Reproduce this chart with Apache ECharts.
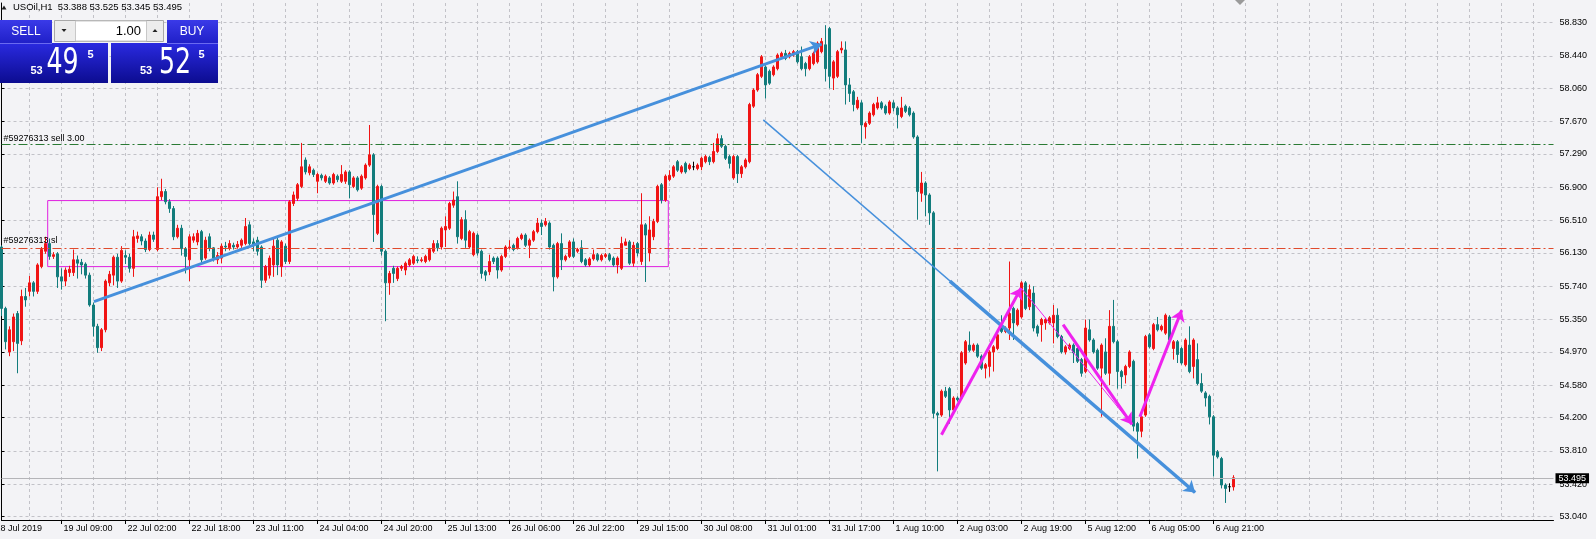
<!DOCTYPE html>
<html><head><meta charset="utf-8">
<script src="https://cdn.jsdelivr.net/npm/echarts@6/dist/echarts.min.js"></script>
<style>html,body{margin:0;padding:0;background:#f3f3f6;}#c{width:1596px;height:539px;}</style>
</head><body><div id="c"></div>
<script>
// ---- DATA (H1 bars, USOil) ----
const opens = [
56.20,55.48,54.97,55.09,55.42,55.10,55.62,55.68,55.78,55.68,
55.97,56.15,56.24,56.09,56.12,55.85,55.80,55.90,55.90,56.05,
56.02,56.00,55.87,55.52,55.27,55.02,55.23,55.78,55.87,56.08,
55.80,56.10,56.08,55.95,56.30,56.32,56.27,56.17,56.34,56.17,
56.79,56.85,56.73,56.65,56.32,56.42,56.18,56.05,56.28,56.26,
56.38,56.07,56.32,56.19,56.05,56.07,56.21,56.19,56.22,56.20,
56.22,56.24,56.46,56.26,56.28,56.20,55.81,55.87,55.99,56.28,
55.97,56.21,56.03,56.71,56.77,56.91,57.22,57.07,57.10,56.97,
57.04,56.97,57.01,56.95,57.03,56.97,56.97,57.08,56.91,57.01,
56.89,57.01,57.16,57.28,56.36,56.91,56.15,55.78,55.95,55.83,
55.95,55.93,55.99,56.01,56.05,56.04,56.03,56.05,56.15,56.24,
56.20,56.40,56.42,56.69,56.79,56.30,56.52,56.20,56.11,56.34,
56.15,55.91,55.91,56.07,56.07,55.93,56.09,56.19,56.22,56.19,
56.30,56.34,56.22,56.28,56.38,56.48,56.46,56.48,56.22,55.85,
56.24,56.05,56.09,56.26,56.15,56.19,56.05,55.99,56.06,56.11,
56.05,56.09,56.11,56.07,55.99,55.95,56.22,56.26,56.01,56.24,
56.03,56.46,56.13,56.32,56.50,56.93,56.75,56.99,57.03,57.20,
57.08,57.18,57.12,57.14,57.12,57.14,57.20,57.25,57.20,57.32,
57.47,57.38,57.26,57.01,57.26,57.06,57.14,57.20,57.85,58.04,
58.20,58.31,58.26,58.22,58.29,58.43,58.47,58.43,58.45,58.49,
58.43,58.35,58.29,58.35,58.37,58.49,58.57,58.76,58.18,58.20,
58.51,58.51,58.10,58.02,57.83,57.89,57.61,57.65,57.75,57.83,
57.89,57.85,57.77,57.89,57.83,57.73,57.85,57.83,57.77,57.49,
56.83,56.95,56.81,56.60,54.25,54.23,54.51,54.54,54.29,54.43,
54.43,54.84,55.05,54.99,55.05,54.92,54.78,54.80,54.97,55.01,
55.29,55.21,55.25,55.48,55.29,55.38,55.78,55.50,55.66,55.27,
55.29,55.31,55.31,55.31,55.40,55.15,54.97,55.01,55.05,55.01,
54.88,54.74,55.23,55.11,54.99,54.78,54.97,54.72,55.27,55.09,
54.74,54.70,54.80,54.86,54.13,54.04,54.23,55.17,55.01,55.29,
55.23,55.19,55.38,55.01,55.09,55.01,54.82,55.05,54.80,54.88,
54.60,54.49,54.45,54.21,53.80,53.72,53.41,53.39,53.388];
const closes = [
55.48,55.09,55.23,55.38,55.07,55.62,55.58,55.78,55.68,55.99,
56.17,56.24,56.09,56.11,55.85,55.80,55.93,55.94,56.05,56.01,
55.99,55.87,55.52,55.27,55.02,55.23,55.80,55.88,56.08,55.80,
56.16,56.08,55.95,56.32,56.33,56.27,56.17,56.34,56.29,56.79,
56.85,56.73,56.65,56.32,56.42,56.18,56.09,56.32,56.32,56.36,
56.05,56.28,56.19,56.07,56.10,56.21,56.20,56.24,56.20,56.23,
56.28,56.44,56.24,56.23,56.15,55.81,55.97,56.07,56.21,55.99,
56.26,56.03,56.73,56.81,56.93,57.14,57.08,57.14,57.05,57.05,
57.01,57.03,56.95,57.05,56.99,57.05,57.08,56.93,57.01,56.87,
57.03,57.16,57.28,56.58,56.91,56.15,55.78,55.89,55.89,55.95,
55.97,56.01,56.05,56.09,56.04,56.05,56.09,56.17,56.24,56.19,
56.42,56.44,56.71,56.75,56.32,56.52,56.28,56.38,56.36,56.13,
55.89,55.87,56.03,56.03,55.93,56.09,56.20,56.20,56.17,56.30,
56.34,56.22,56.28,56.38,56.48,56.44,56.50,56.20,55.85,56.24,
56.05,56.09,56.26,56.09,56.17,56.03,55.99,56.06,56.11,56.05,
56.10,56.11,56.05,55.99,56.07,56.24,56.26,56.01,56.22,56.13,
56.46,56.34,56.40,56.50,56.91,56.75,57.03,57.04,57.14,57.10,
57.14,57.08,57.16,57.14,57.16,57.24,57.26,57.20,57.32,57.47,
57.38,57.24,57.18,57.26,57.06,57.14,57.22,57.87,58.04,58.22,
58.43,58.10,58.12,58.31,58.45,58.47,58.41,58.47,58.49,58.37,
58.29,58.29,58.43,58.47,58.59,58.61,58.29,58.20,58.37,58.49,
58.53,58.10,58.00,57.87,57.92,57.63,57.65,57.77,57.87,57.89,
57.83,57.77,57.90,57.83,57.75,57.83,57.79,57.75,57.49,56.85,
56.95,56.81,56.60,54.25,54.23,54.51,54.45,54.29,54.43,54.41,
54.96,55.09,54.99,55.05,54.92,54.78,54.82,54.97,55.03,55.17,
55.21,55.25,55.42,55.31,55.46,55.78,55.48,55.70,55.25,55.19,
55.35,55.35,55.37,55.40,55.15,54.97,55.03,55.05,54.96,54.86,
54.72,55.25,55.11,54.97,54.78,55.05,54.72,55.27,55.09,54.74,
54.68,54.80,54.97,54.10,54.04,54.21,55.15,55.03,55.29,55.23,
55.27,55.40,55.11,55.09,54.94,54.84,55.11,54.74,55.11,54.60,
54.51,54.43,54.21,53.76,53.74,53.41,53.37,53.39,53.495];
const lows = [
55.39,55.00,54.92,54.98,54.72,55.05,55.50,55.62,55.62,55.65,
55.95,56.12,56.05,56.06,55.72,55.70,55.74,55.85,55.86,55.83,
55.88,55.83,55.50,55.15,54.96,54.98,55.20,55.74,55.75,55.72,
55.78,56.00,55.90,55.85,56.25,56.22,56.14,56.15,56.26,56.15,
56.75,56.70,56.60,56.28,56.30,56.10,55.89,55.80,56.25,56.22,
56.02,56.05,56.15,56.03,56.00,56.01,56.15,56.16,56.17,56.18,
56.19,56.22,56.22,56.15,56.10,55.72,55.78,55.83,55.85,55.87,
55.85,56.00,56.00,56.68,56.74,56.89,57.05,57.04,57.02,56.83,
56.98,56.95,56.93,56.93,56.96,56.95,56.94,56.77,56.89,56.85,
56.87,56.99,57.14,56.26,56.34,56.10,55.33,55.64,55.78,55.80,
55.92,55.87,55.97,55.99,56.01,56.02,56.01,56.03,56.13,56.15,
56.17,56.20,56.40,56.66,56.24,56.28,56.19,56.18,56.09,56.10,
55.83,55.80,55.87,56.00,55.83,55.91,56.07,56.17,56.15,56.17,
56.28,56.20,56.07,56.26,56.36,56.34,56.44,56.17,55.68,55.83,
55.93,56.03,56.07,56.07,56.13,56.01,55.97,55.97,56.04,56.03,
56.03,56.07,56.03,55.97,55.89,55.93,56.22,55.99,55.97,56.09,
55.99,55.79,56.03,56.28,56.48,56.71,56.73,56.97,57.01,57.08,
57.06,57.06,57.10,57.10,57.10,57.10,57.18,57.16,57.18,57.30,
57.36,57.22,57.12,56.99,56.95,57.01,57.12,57.18,57.83,58.02,
58.18,57.94,58.10,58.20,58.27,58.41,58.39,58.41,58.43,58.35,
58.27,58.20,58.27,58.33,58.35,58.47,58.14,58.06,58.04,58.18,
58.47,57.87,57.90,57.79,57.81,57.42,57.47,57.63,57.73,57.81,
57.81,57.75,57.75,57.79,57.59,57.71,57.77,57.73,57.47,56.52,
56.73,56.56,56.46,54.19,53.57,54.21,54.43,54.13,54.27,54.39,
54.41,54.82,54.97,54.97,54.90,54.76,54.66,54.68,54.74,54.99,
55.19,55.19,55.11,55.11,55.27,55.36,55.46,55.46,55.21,55.15,
55.09,55.23,55.29,55.07,55.13,54.95,54.94,54.99,54.84,54.84,
54.68,54.72,55.09,54.95,54.76,54.21,54.70,54.58,55.07,54.54,
54.54,54.60,54.78,54.04,53.72,53.97,54.21,55.01,54.99,55.21,
55.21,55.17,55.09,54.88,54.84,54.82,54.80,54.72,54.66,54.58,
54.49,54.33,54.12,53.51,53.72,53.37,53.20,53.33,53.345];
const highs = [
56.22,55.50,55.27,55.42,55.45,55.70,55.72,55.86,55.80,56.01,
56.20,56.32,56.30,56.14,56.14,55.95,55.96,55.98,56.17,56.10,
56.06,56.02,55.90,55.55,55.30,55.25,55.82,55.92,56.10,56.12,
56.21,56.16,56.12,56.40,56.38,56.35,56.30,56.38,56.38,56.90,
57.00,56.88,56.76,56.68,56.46,56.46,56.20,56.35,56.36,56.40,
56.40,56.32,56.36,56.20,56.14,56.24,56.26,56.28,56.25,56.27,
56.30,56.54,56.50,56.30,56.32,56.22,55.99,56.10,56.30,56.32,
56.28,56.24,56.75,56.85,56.95,57.42,57.25,57.17,57.12,57.07,
57.06,57.05,57.03,57.07,57.05,57.16,57.10,57.10,57.03,57.03,
57.05,57.18,57.63,57.30,56.93,56.93,56.17,55.92,55.98,55.97,
55.99,56.03,56.07,56.11,56.09,56.08,56.11,56.19,56.28,56.28,
56.44,56.56,56.73,56.85,56.97,56.55,56.63,56.40,56.38,56.36,
56.17,55.93,56.11,56.09,56.09,56.11,56.22,56.28,56.24,56.32,
56.36,56.36,56.30,56.40,56.54,56.52,56.54,56.50,56.24,56.26,
56.36,56.11,56.28,56.30,56.19,56.28,56.07,56.08,56.17,56.13,
56.12,56.13,56.13,56.09,56.09,56.32,56.30,56.28,56.26,56.26,
56.83,56.48,56.56,56.53,56.93,56.95,57.05,57.10,57.16,57.22,
57.16,57.20,57.18,57.20,57.18,57.26,57.28,57.27,57.42,57.53,
57.51,57.40,57.28,57.28,57.28,57.16,57.24,57.89,58.06,58.24,
58.45,58.33,58.28,58.33,58.47,58.49,58.51,58.49,58.51,58.51,
58.55,58.37,58.45,58.49,58.61,58.65,58.80,58.78,58.39,58.51,
58.61,58.61,58.18,58.04,57.96,57.92,57.67,57.79,57.89,57.96,
57.91,57.87,57.92,57.92,57.85,57.96,57.87,57.85,57.79,57.51,
57.08,56.97,56.83,56.62,54.27,54.53,54.56,54.56,54.45,54.45,
54.98,55.11,55.21,55.07,55.07,54.94,54.84,54.99,55.05,55.19,
55.40,55.27,56.03,55.50,55.48,55.80,55.80,55.76,55.74,55.29,
55.37,55.37,55.39,55.52,55.48,55.17,55.05,55.07,55.07,55.03,
54.90,55.35,55.35,55.13,55.01,55.07,55.13,55.46,55.58,55.11,
54.76,54.82,54.99,54.88,54.15,54.23,55.17,55.19,55.31,55.38,
55.29,55.42,55.40,55.11,55.11,55.03,55.13,55.27,55.13,55.07,
54.72,54.51,54.47,54.23,53.82,53.74,53.43,53.43,53.525];

const timeLabels = ['19 Jul 09:00','22 Jul 02:00','22 Jul 18:00','23 Jul 11:00','24 Jul 04:00','24 Jul 20:00',
 '25 Jul 13:00','26 Jul 06:00','26 Jul 22:00','29 Jul 15:00','30 Jul 08:00','31 Jul 01:00','31 Jul 17:00',
 '1 Aug 10:00','2 Aug 03:00','2 Aug 19:00','5 Aug 12:00','6 Aug 05:00','6 Aug 21:00'];
const firstDateLabel = '18 Jul 2019';
const priceTicks = [58.830,58.440,58.060,57.670,57.290,56.900,56.510,56.130,55.740,55.350,54.970,54.580,54.200,53.810,53.420,53.040];
const bidPrice = 53.495;
const sellLevel = 57.405;
const slLevel = 56.193;
const sellText = '#59276313 sell 3.00';
const slText = '#59276313 sl';
const headerText = 'USOil,H1  53.388 53.525 53.345 53.495';
const lotText = '1.00';
const sellQuote = ['53','49','5'];
const buyQuote = ['53','52','5'];

// drawn objects: [bar index, price]
const rectBox = [[11.55, 56.744], [166.7, 55.97]];
const blueArrow = [[23.1, 55.56], [205.05, 58.577]];
const blueThin = [[190.45, 57.69], [298.4, 53.322]];
const blueArrow2 = [[237.1, 55.80], [298.4, 53.322]];
const magArrow1 = [[235.0, 54.00], [254.9, 55.72]];
const magThin = [[254.9, 55.72], [282.6, 54.12]];
const magArrow2 = [[265.4, 55.29], [282.6, 54.12]];
const magArrow3 = [[284.6, 54.21], [295.05, 55.46]];

const slots = 389;
// ---- CHART ----
const chart = echarts.init(document.getElementById('c'), null, {renderer:'canvas'});
const cats = Array.from({length: slots}, (_, i) => String(i));
const candles = opens.map((o, i) => [o, closes[i], lows[i], highs[i]]);
const isLabel = (i) => i >= 15 && (i - 15) % 16 === 0 && (i - 15) / 16 < timeLabels.length;
const FONT = 'Liberation Sans';
const BIG = "36px 'DejaVu Sans Condensed', sans-serif";
const BLUE = '#4690dc', MAG = '#ee22ee';

function overlay(pairs, color, width, arrow) {
  return {
    type: 'line', xAxisIndex: 1, yAxisIndex: 0, data: [], z: 5, silent: true, animation: false,
    markLine: {
      silent: true, animation: false, symbol: ['none', arrow ? 'arrow' : 'none'], symbolSize: arrow ? 11 : 0,
      label: {show: false}, emphasis: {disabled: true},
      lineStyle: {color: color, width: width, type: 'solid'},
      data: pairs.map(p => [{coord: p[0]}, {coord: p[1]}])
    }
  };
}
const grad = (a, b) => new echarts.graphic.LinearGradient(0, 0, 0, 1, [{offset: 0, color: a}, {offset: 1, color: b}]);

const option = {
  backgroundColor: '#f3f3f6',
  animation: false,
  grid: {left: 1.5, right: 42.5, top: 3, bottom: 19, containLabel: false},
  xAxis: [{
    type: 'category', data: cats, boundaryGap: false,
    axisLine: {show: true, lineStyle: {color: '#000', width: 1}},
    axisTick: {show: true, interval: (i) => isLabel(i), length: 4, lineStyle: {color: '#000'}},
    axisLabel: {interval: (i) => isLabel(i), formatter: (v) => timeLabels[(Number(v) - 15) / 16],
      align: 'left', padding: [0, 0, 0, 2], color: '#000', fontSize: 9, fontFamily: FONT, margin: 4},
    splitLine: {show: true, interval: (i) => i % 8 === 7, lineStyle: {color: '#c2c2c8', type: [3, 3], width: 1}}
  }, {
    type: 'value', min: 0, max: slots - 1, show: false
  }],
  yAxis: {
    type: 'value', position: 'right', min: 53.0, max: 59.06, scale: true,
    axisLine: {show: true, lineStyle: {color: '#000', width: 1}},
    axisTick: {show: true, customValues: priceTicks, length: 3, lineStyle: {color: '#000'}},
    axisLabel: {customValues: priceTicks, formatter: (v) => v.toFixed(3), color: '#000', fontSize: 9, fontFamily: FONT, margin: 6},
    splitLine: {show: true, lineStyle: {color: '#c2c2c8', type: [3, 3], width: 1}}
  },
  series: [
    {
      type: 'candlestick', data: candles, barWidth: 2, clip: false, silent: true, z: 3,
      itemStyle: {color: '#f01414', color0: '#127c7c', borderColor: '#f01414', borderColor0: '#127c7c', borderColorDoji: '#000', borderWidth: 1},
      emphasis: {disabled: true},
      markLine: {
        silent: true, animation: false, symbol: ['none', 'none'], emphasis: {disabled: true},
        data: [
          {yAxis: sellLevel, lineStyle: {color: '#2a7a34', type: [9, 3, 2, 3], width: 1},
           label: {show: true, position: 'insideStartTop', formatter: sellText, color: '#000', fontSize: 9, fontFamily: FONT, distance: [2, 1]}},
          {yAxis: slLevel, lineStyle: {color: '#e04a2c', type: [9, 3, 2, 3], width: 1},
           label: {show: true, position: 'insideStartTop', formatter: slText, color: '#000', fontSize: 9, fontFamily: FONT, distance: [2, 3]}},
          {yAxis: bidPrice, lineStyle: {color: '#b4b4b8', type: 'solid', width: 1},
           label: {show: true, position: 'end', formatter: bidPrice.toFixed(3), color: '#fff', backgroundColor: '#000', padding: [1, 3, 0, 3], fontSize: 9, fontFamily: FONT, distance: 2}}
        ]
      }
    },
    {
      type: 'line', xAxisIndex: 1, yAxisIndex: 0, data: [], z: 4, silent: true, animation: false,
      markArea: {silent: true, animation: false, emphasis: {disabled: true}, label: {show: false},
        itemStyle: {color: 'rgba(0,0,0,0)', borderColor: '#e020e0', borderWidth: 1},
        data: [[{coord: rectBox[0]}, {coord: rectBox[1]}]]}
    },
    overlay([blueArrow], BLUE, 3, true),
    overlay([blueThin], BLUE, 1.5, false),
    overlay([blueArrow2], BLUE, 3.5, true),
    overlay([magThin], MAG, 1, false),
    overlay([magArrow1, magArrow2, magArrow3], MAG, 3, true)
  ],
  graphic: [
    {type: 'polygon', z: 100, shape: {points: [[1235, 0], [1245, 0], [1240, 5]]}, style: {fill: '#9a9a9a'}},
    {type: 'polygon', z: 100, shape: {points: [[1.5, 9.5], [6.5, 9.5], [4, 5.5]]}, style: {fill: '#222'}},
    {type: 'text', z: 100, x: 13, y: 7.5, style: {text: headerText, fill: '#000', font: '9.5px ' + FONT, align: 'left', verticalAlign: 'middle'}},
    {type: 'text', z: 100, x: -4.5, y: 529, style: {text: firstDateLabel, fill: '#000', font: '9px ' + FONT, align: 'left', verticalAlign: 'middle'}},
    // one click panel
    {type: 'rect', z: 100, shape: {x: 0, y: 20, width: 52, height: 23}, style: {fill: grad('#3a3ae8', '#2020c8')}},
    {type: 'rect', z: 100, shape: {x: 0, y: 43, width: 108, height: 40}, style: {fill: grad('#2a2ae0', '#0c0c90')}},
    {type: 'rect', z: 100, shape: {x: 167, y: 20, width: 51, height: 23}, style: {fill: grad('#3a3ae8', '#2020c8')}},
    {type: 'rect', z: 100, shape: {x: 111, y: 43, width: 107, height: 40}, style: {fill: grad('#2a2ae0', '#0c0c90')}},
    {type: 'line', z: 101, shape: {x1: 0, y1: 43.5, x2: 52, y2: 43.5}, style: {stroke: '#6a6af0', lineWidth: 1}},
    {type: 'line', z: 101, shape: {x1: 167, y1: 43.5, x2: 218, y2: 43.5}, style: {stroke: '#6a6af0', lineWidth: 1}},
    {type: 'rect', z: 100, shape: {x: 54.5, y: 20.5, width: 109, height: 21}, style: {fill: '#ececec', stroke: '#a8a8a8', lineWidth: 1}},
    {type: 'rect', z: 101, shape: {x: 75.5, y: 21, width: 71, height: 20}, style: {fill: '#ffffff', stroke: '#c8c8c8', lineWidth: 1}},
    {type: 'polygon', z: 101, shape: {points: [[61.5, 29], [66.5, 29], [64, 32]]}, style: {fill: '#222'}},
    {type: 'polygon', z: 101, shape: {points: [[152.5, 32], [157.5, 32], [155, 29]]}, style: {fill: '#222'}},
    {type: 'text', z: 102, x: 141, y: 31.5, style: {text: lotText, fill: '#000', font: '13px ' + FONT, align: 'right', verticalAlign: 'middle'}},
    {type: 'text', z: 102, x: 26, y: 31.5, style: {text: 'SELL', fill: '#fff', font: '12px ' + FONT, align: 'center', verticalAlign: 'middle'}},
    {type: 'text', z: 102, x: 192, y: 31.5, style: {text: 'BUY', fill: '#fff', font: '12px ' + FONT, align: 'center', verticalAlign: 'middle'}},
    {type: 'text', z: 102, x: 30.5, y: 70.5, style: {text: sellQuote[0], fill: '#fff', font: 'bold 11px ' + FONT, align: 'left', verticalAlign: 'middle'}},
    {type: 'text', z: 102, x: 46.5, y: 63.5, scaleX: 0.78, originX: 0, style: {text: sellQuote[1], fill: '#fff', font: BIG, align: 'left', verticalAlign: 'middle'}},
    {type: 'text', z: 102, x: 87.5, y: 54.5, style: {text: sellQuote[2], fill: '#fff', font: 'bold 11px ' + FONT, align: 'left', verticalAlign: 'middle'}},
    {type: 'text', z: 102, x: 140, y: 70.5, style: {text: buyQuote[0], fill: '#fff', font: 'bold 11px ' + FONT, align: 'left', verticalAlign: 'middle'}},
    {type: 'text', z: 102, x: 159, y: 63.5, scaleX: 0.78, originX: 0, style: {text: buyQuote[1], fill: '#fff', font: BIG, align: 'left', verticalAlign: 'middle'}},
    {type: 'text', z: 102, x: 198.5, y: 54.5, style: {text: buyQuote[2], fill: '#fff', font: 'bold 11px ' + FONT, align: 'left', verticalAlign: 'middle'}}
  ]
};
chart.setOption(option);
</script>
</body></html>
